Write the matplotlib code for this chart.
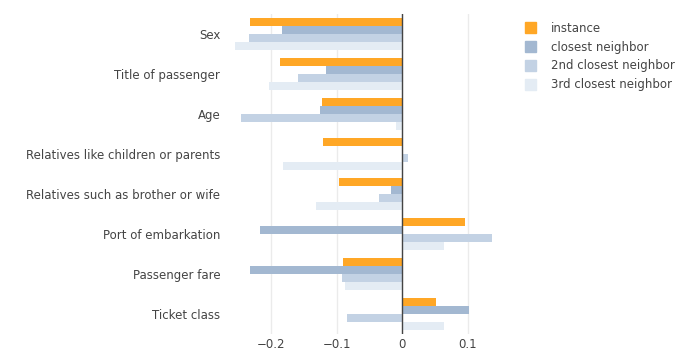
import matplotlib.pyplot as plt
import numpy as np
from matplotlib.patches import Patch

features = ["Sex", "Title of passenger", "Age", "Relatives like children or parents",
            "Relatives such as brother or wife", "Port of embarkation",
            "Passenger fare", "Ticket class"]
instance = [-0.232, -0.186, -0.122, -0.121, -0.096, 0.095, -0.090, 0.052]
closest = [-0.183, -0.116, -0.125, 0.001, -0.017, -0.218, -0.232, 0.102]
second = [-0.234, -0.159, -0.246, 0.009, -0.035, 0.137, -0.092, -0.084]
third = [-0.255, -0.203, -0.009, -0.182, -0.131, 0.063, -0.088, 0.063]

series = [("instance", instance, "#FFA726"),
          ("closest neighbor", closest, "#A3B8D1"),
          ("2nd closest neighbor", second, "#C3D2E4"),
          ("3rd closest neighbor", third, "#E4ECF4")]

fig = plt.figure(figsize=(6.97, 3.6), dpi=100)
# plot area: x 232..494 px, y 14..334 px
ax = fig.add_axes([232 / 697, 26 / 360, 262 / 697, 320 / 360])

y = np.arange(len(features))
h = 0.2
for i, (name, vals, col) in enumerate(series):
    ax.barh(y - 0.3 + i * h, vals, height=h, color=col, zorder=2)

ax.set_ylim(7.5, -0.5)
ax.set_xlim(-0.26, 0.14)
ax.set_xticks([-0.2, -0.1, 0, 0.1])
ax.set_xticklabels(["\u22120.2", "\u22120.1", "0", "0.1"])
ax.set_yticks(y)
ax.set_yticklabels(features)
ax.grid(axis="x", color="#EBEBEB", linewidth=1, zorder=0)
ax.axvline(0, color="#444444", linewidth=1, zorder=3)
for s in ax.spines.values():
    s.set_visible(False)
ax.tick_params(length=0, labelsize=8.5, colors="#444444")
ax.tick_params(axis="x", pad=3)
ax.tick_params(axis="y", pad=8.5)

handles = [Patch(color=c, label=n) for n, _, c in series]
fig.legend(handles=handles, loc="upper left", bbox_to_anchor=(514 / 697, 1 - 11 / 360),
           frameon=False, fontsize=8.5, handlelength=1.0, handleheight=1.0,
           handletextpad=1.2, labelspacing=0.5, labelcolor="#444444")

fig.savefig("out.png", dpi=100)
